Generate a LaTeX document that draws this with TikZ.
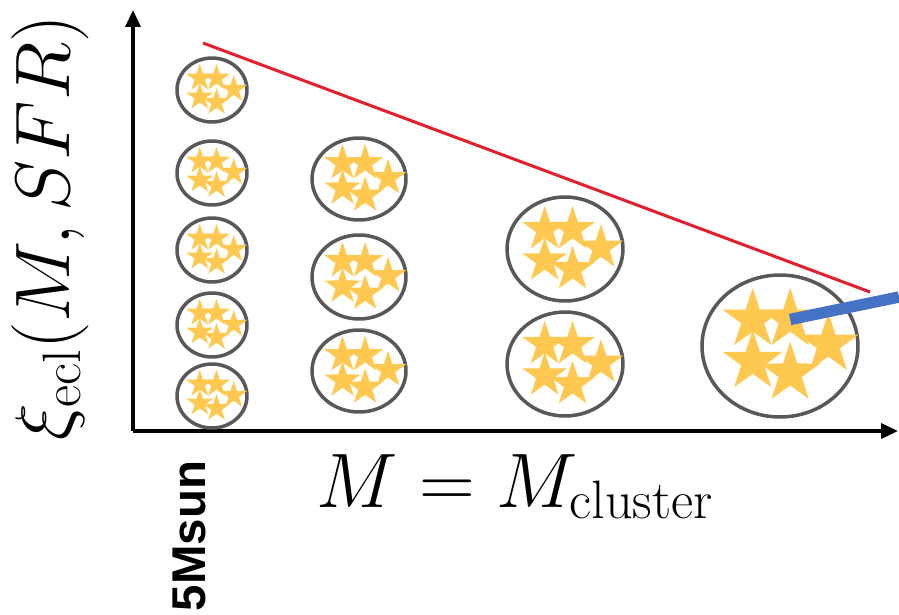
\RequirePackage{fix-cm}
\documentclass[tikz,border=0pt]{standalone}
\usepackage{fontspec}
\usepackage{amsmath}
\usetikzlibrary{positioning,shapes.geometric,arrows.meta}
\newfontfamily\sunfont{Liberation Sans}
\definecolor{staryellow}{RGB}{255,200,80}
\definecolor{ringgray}{RGB}{88,88,88}
\definecolor{trendred}{RGB}{228,30,45}
\definecolor{pointerblue}{RGB}{68,114,196}

\tikzset{
  ring/.style={ellipse, draw=ringgray, line width=2pt, inner sep=0pt},
  twinkle/.style={star, star points=5, star point ratio=2.6, fill=staryellow, inner sep=0pt},
  axis/.style={line width=2pt, -{Triangle[length=0.34cm,width=0.3cm]}},
  bigmath/.style={font=\fontsize{44}{50}\selectfont},
}

\begin{document}
\begin{tikzpicture}[x=0.02cm, y=-0.02cm]
    \useasboundingbox (0,0) rectangle (899,615);

    \coordinate (origin) at (133,431);
    \coordinate (ytop) at (133,10);
    \coordinate (xend) at (898,431);
    \draw[axis] (origin) -- (ytop);
    \draw[axis] (origin) -- (xend);

    % clusters: name/x/y/rx/ry
    \foreach \cl/\cx/\cy/\rx/\ry in {a1/212/90/35/32, a2/212/173/35/32, a3/212/250/35/32,
        a4/212/325/35/32, a5/212/396/35/32, b1/359/179/47/41, b2/359/277/47/42,
        b3/359/371/47/41, c1/565/249/58/52, c2/565/364/58/52, d1/780/346/78/71} {
        \node[ring, minimum width=\rx*0.04cm, minimum height=\ry*0.04cm] (\cl) at (\cx,\cy) {};
        \foreach \dx/\dy [count=\k] in {-0.35/-0.34, 0.13/-0.34, 0.62/-0.02, -0.35/0.2, 0.13/0.35}
            \node[twinkle, minimum size=\rx*0.0162cm] (\cl-s\k) at (\cx+\dx*\rx, \cy+\dy*\rx) {};
    }

    \coordinate (trendhi) at (203,43);
    \coordinate (trendlo) at (870,292);
    \draw[trendred, line width=1.7pt] (trendhi) -- (trendlo);

    \coordinate (pointer) at (899,297);
    \draw[pointerblue, line width=6.5pt] (d1-s2.center) -- (pointer);

    \node[bigmath, rotate=90] (ylabel) at (50,228) {$\xi_{\mathrm{ecl}}(M,SFR)$};
    \node[bigmath, anchor=base] (xlabel) at (515,507) {$M = M_{\mathrm{cluster}}$};
    \node[rotate=90, font=\sunfont\bfseries\fontsize{27}{30}\selectfont] (sunmass) at (189,536) {5Msun};
\end{tikzpicture}
\end{document}
